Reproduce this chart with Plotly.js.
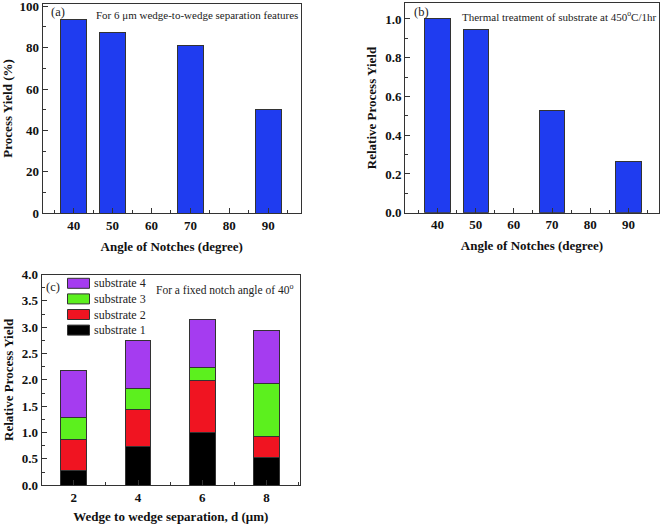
<!DOCTYPE html>
<html>
<head>
<meta charset="utf-8">
<script src="https://cdn.plot.ly/plotly-3.0.1.min.js"></script>
<style>html,body{margin:0;padding:0;background:#fff;}#chart{width:661px;height:524px;}</style>
</head>
<body>
<div id="chart"></div>
<script>
// ---- data ----
var notchAngles = [40, 50, 70, 90];
var processYieldPct = [93.75, 87.5, 81.25, 50];
var relYieldThermal = [1.0, 0.947, 0.526, 0.263];
var angleTicks = [40, 50, 60, 70, 80, 90];
var angleTickLabels = ['40', '50', '60', '70', '80', '90'];

var separations = [2, 4, 6, 8];
var substrate1 = [0.27, 0.73, 1.00, 0.53];
var substrate2 = [0.60, 0.70, 0.99, 0.40];
var substrate3 = [0.41, 0.41, 0.25, 1.00];
var substrate4 = [0.90, 0.90, 0.90, 1.00];
var sepTicks = [2, 4, 6, 8];
var seriesNames = ['substrate 1', 'substrate 2', 'substrate 3', 'substrate 4'];

// ---- helpers ----
var W = 661, H = 524;
function px(x) { return x / W; }
function py(y) { return 1 - y / H; }

var SERIF = 'Times New Roman, Liberation Serif, serif';
var tickFont = {family: SERIF, size: 13, color: '#111', weight: 700};
var titleFont = {family: SERIF, size: 13, color: '#111', weight: 700};
var annFont = {family: SERIF, size: 11, color: '#222'};
var lineCol = '#333';
var barLine = {color: '#333', width: 1};

function axisBase(extra) {
  var a = {
    showline: true, linecolor: lineCol, linewidth: 1, mirror: true,
    ticks: 'inside', ticklen: 5, tickcolor: lineCol, tickwidth: 1,
    showgrid: false, zeroline: false, tickfont: tickFont,
    ticklabeloverflow: 'allow', fixedrange: true
  };
  for (var k in extra) a[k] = extra[k];
  return a;
}

var blue = '#1f3cf0';
var colors = ['#000000', '#f01421', '#5cf01e', '#a53cf0'];
var stacks = [substrate1, substrate2, substrate3, substrate4];

var traces = [
  {type: 'bar', x: notchAngles, y: processYieldPct, width: 6.6, xaxis: 'x', yaxis: 'y',
   marker: {color: blue, line: barLine}, showlegend: false, hoverinfo: 'x+y'},
  {type: 'bar', x: notchAngles, y: relYieldThermal, width: 6.6, xaxis: 'x2', yaxis: 'y2',
   marker: {color: blue, line: barLine}, showlegend: false, hoverinfo: 'x+y'}
];
for (var i = 0; i < 4; i++) {
  traces.push({type: 'bar', x: separations, y: stacks[i], width: 0.8, name: seriesNames[i],
    xaxis: 'x3', yaxis: 'y3', marker: {color: colors[i], line: barLine}, showlegend: false});
}

// manual legend for panel (c): swatches + labels, top item = substrate 4
var shapes = [];
var annotations = [
  {xref: 'paper', yref: 'paper', x: px(57.5), y: py(12), xanchor: 'center', yanchor: 'middle',
   text: '(a)', showarrow: false, font: {family: SERIF, size: 12.5, color: '#222'}},
  {xref: 'paper', yref: 'paper', x: px(94), y: py(15), xanchor: 'left', yanchor: 'middle',
   text: 'For 6 μm wedge-to-wedge separation features', showarrow: false, font: annFont},
  {xref: 'paper', yref: 'paper', x: px(421), y: py(12), xanchor: 'center', yanchor: 'middle',
   text: '(b)', showarrow: false, font: {family: SERIF, size: 12.5, color: '#222'}},
  {xref: 'paper', yref: 'paper', x: px(460), y: py(16), xanchor: 'left', yanchor: 'middle',
   text: 'Thermal treatment of substrate at 450<sup>o</sup>C/1hr', showarrow: false, font: annFont},
  {xref: 'paper', yref: 'paper', x: px(53), y: py(287), xanchor: 'center', yanchor: 'middle',
   text: '(c)', showarrow: false, font: {family: SERIF, size: 12.5, color: '#222'}},
  {xref: 'paper', yref: 'paper', x: px(154), y: py(289), xanchor: 'left', yanchor: 'middle',
   text: 'For a fixed notch angle of 40<sup>o</sup>', showarrow: false,
   font: {family: SERIF, size: 11.5, color: '#222'}}
];
var legTop = 283.3, legStep = 15.6;
for (var j = 0; j < 4; j++) {
  var idx = 3 - j;
  var cy = legTop + j * legStep;
  shapes.push({type: 'rect', xref: 'paper', yref: 'paper',
    x0: px(67.5), x1: px(89.5), y0: py(cy + 5), y1: py(cy - 5),
    fillcolor: colors[idx], line: {color: '#333', width: 1}});
  annotations.push({xref: 'paper', yref: 'paper', x: px(92), y: py(cy), xanchor: 'left', yanchor: 'middle',
    text: seriesNames[idx], showarrow: false, font: {family: SERIF, size: 12, color: '#222'}});
}

var layout = {
  width: W, height: H,
  margin: {l: 0, r: 0, t: 0, b: 0},
  paper_bgcolor: '#fff', plot_bgcolor: '#fff',
  barmode: 'stack',
  showlegend: false,
  xaxis: axisBase({
    domain: [px(42.5), px(301)], range: [32, 98.4], anchor: 'y',
    tickvals: angleTicks, ticktext: angleTickLabels,
    minor: {dtick: 10, tick0: 35, ticks: 'inside', ticklen: 3, tickcolor: lineCol},
    title: {text: 'Angle of Notches (degree)', font: titleFont, standoff: 9}
  }),
  yaxis: axisBase({
    domain: [py(213.3), py(3.5)], range: [0, 101.3], anchor: 'x',
    tickvals: [0, 20, 40, 60, 80, 100],
    minor: {dtick: 20, tick0: 10, ticks: 'inside', ticklen: 3, tickcolor: lineCol},
    title: {text: 'Process Yield (%)', font: titleFont, standoff: 5}
  }),
  xaxis2: axisBase({
    domain: [px(405), px(659)], range: [31.5, 98], anchor: 'y2',
    tickvals: angleTicks, ticktext: angleTickLabels,
    minor: {dtick: 10, tick0: 35, ticks: 'inside', ticklen: 3, tickcolor: lineCol},
    title: {text: 'Angle of Notches (degree)', font: titleFont, standoff: 9}
  }),
  yaxis2: axisBase({
    domain: [py(212.7), py(3.3)], range: [0, 1.081], anchor: 'x2',
    tickvals: [0, 0.2, 0.4, 0.6, 0.8, 1.0], tickformat: '.1f',
    minor: {dtick: 0.2, tick0: 0.1, ticks: 'inside', ticklen: 3, tickcolor: lineCol},
    title: {text: 'Relative Process Yield', font: titleFont, standoff: 5}
  }),
  xaxis3: axisBase({
    domain: [px(41.7), px(300)], range: [1, 9.04], anchor: 'y3',
    tickvals: sepTicks,
    minor: {dtick: 2, tick0: 3, ticks: 'inside', ticklen: 3, tickcolor: lineCol},
    title: {text: 'Wedge to wedge separation, d (μm)', font: titleFont, standoff: 9}
  }),
  yaxis3: axisBase({
    domain: [py(485.2), py(274.5)], range: [0, 4], anchor: 'x3',
    tickvals: [0, 0.5, 1, 1.5, 2, 2.5, 3, 3.5, 4], tickformat: '.1f',
    minor: {dtick: 0.5, tick0: 0.25, ticks: 'inside', ticklen: 3, tickcolor: lineCol},
    title: {text: 'Relative Process Yield', font: titleFont, standoff: 5}
  }),
  shapes: shapes,
  annotations: annotations
};

Plotly.newPlot('chart', traces, layout, {displayModeBar: false, staticPlot: true});
</script>
</body>
</html>
